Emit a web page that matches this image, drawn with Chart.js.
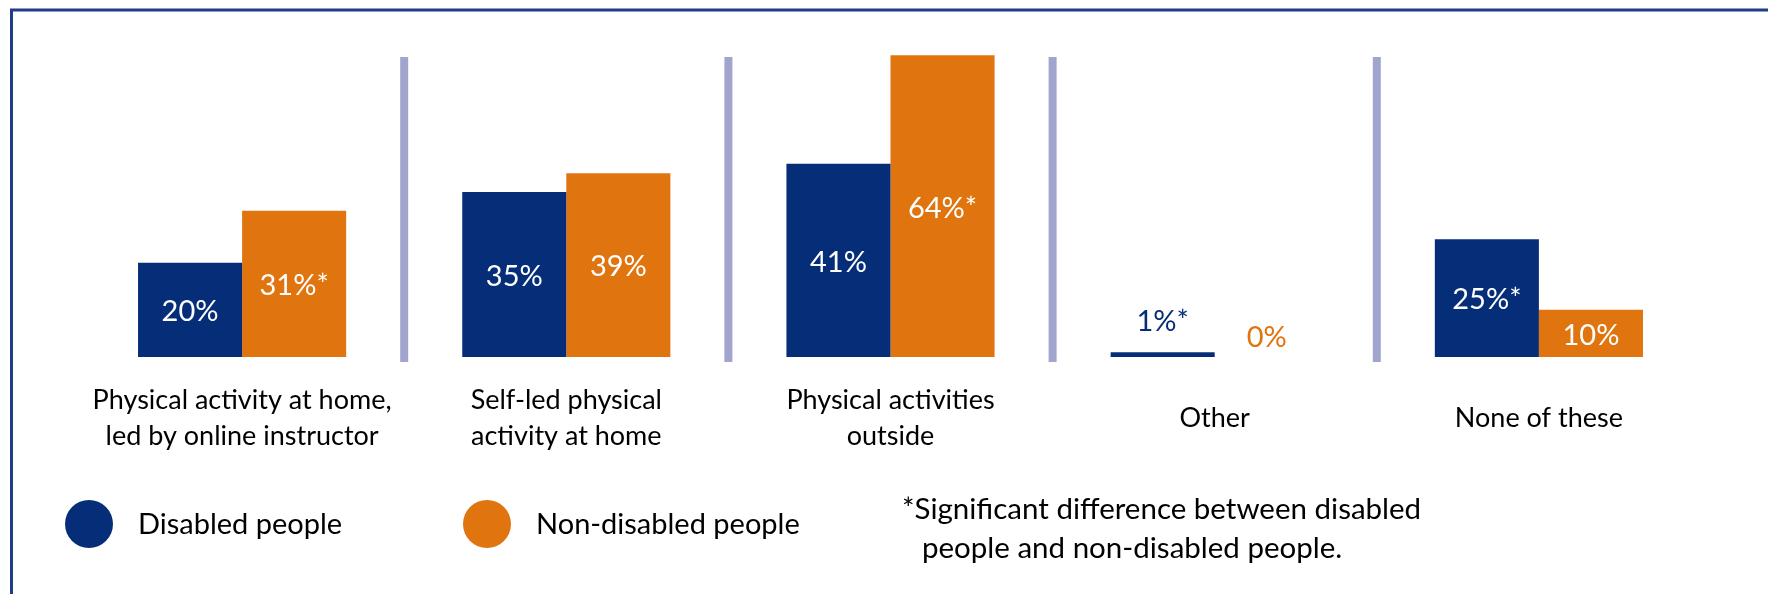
<!DOCTYPE html>
<html>
<head>
<meta charset="utf-8">
<title>Physical activity by disability</title>
<script src="https://cdn.jsdelivr.net/npm/chart.js@4/dist/chart.umd.min.js"></script>
<style>
    html, body { margin: 0; padding: 0; background: #fff; }
    #wrap { position: relative; width: 1768px; height: 594px; }
</style>
</head>
<body>
<div id="wrap"><canvas id="activityChart" width="1768" height="594"></canvas></div>
<script>
// Chart data
const categories = [
    ['Physical activity at home,', 'led by online instructor'],
    ['Self-led physical', 'activity at home'],
    ['Physical activities', 'outside'],
    ['Other'],
    ['None of these']
];
const disabledValues = [20, 35, 41, 1, 25];
const nonDisabledValues = [31, 39, 64, 0, 10];
const disabledLabels = ['20%', '35%', '41%', '1%*', '25%*'];
const nonDisabledLabels = ['31%*', '39%', '64%*', '0%', '10%'];
const seriesNames = ['Disabled people', 'Non-disabled people'];
const footnoteLines = ['*Significant difference between disabled', 'people and non-disabled people.'];

const BLUE = '#062E78';
const ORANGE = '#E0740F';
const DIVIDER = '#A1A5CD';
const FONT = 'Lato, "Open Sans", sans-serif';

// Frame, dividers, category names, value labels, legend and footnote
const decorations = {
    id: 'decorations',
    beforeDraw(chart) {
        const ctx = chart.ctx;
        ctx.save();
        ctx.fillStyle = '#fff';
        ctx.fillRect(0, 0, chart.width, chart.height);
        ctx.strokeStyle = '#1F3D8A';
        ctx.lineWidth = 3;
        ctx.strokeRect(11.5, 10, 1800, 700);
        ctx.restore();
    },
    afterDatasetsDraw(chart) {
        const ctx = chart.ctx;
        const x = chart.scales.x;
        const y = chart.scales.y;
        ctx.save();

        // vertical separators between the groups
        ctx.fillStyle = DIVIDER;
        for (let i = 0; i < categories.length - 1; i++) {
            const mid = (x.getPixelForValue(i) + x.getPixelForValue(i + 1)) / 2;
            ctx.fillRect(mid - 4, 57, 8, 305);
        }

        // value labels
        ctx.textAlign = 'center';
        ctx.textBaseline = 'middle';
        ctx.font = '29px ' + FONT;
        const labelSets = [disabledLabels, nonDisabledLabels];
        chart.data.datasets.forEach((ds, di) => {
            const meta = chart.getDatasetMeta(di);
            meta.data.forEach((bar, i) => {
                const v = ds.data[i];
                const top = y.getPixelForValue(v);
                const base = y.getPixelForValue(0);
                if (v >= 5) {
                    ctx.fillStyle = '#fff';
                    ctx.fillText(labelSets[di][i], bar.x, (top + base) / 2 + 2);
                } else {
                    ctx.fillStyle = ds.backgroundColor;
                    ctx.fillText(labelSets[di][i], bar.x, top - (v > 0 ? 31 : 19));
                }
            });
        });

        // category names under the bars
        ctx.fillStyle = '#000';
        ctx.font = '27px ' + FONT;
        categories.forEach((lines, i) => {
            const cx = x.getPixelForValue(i);
            const startY = lines.length === 1 ? 418 : 400;
            lines.forEach((line, li) => ctx.fillText(line, cx, startY + li * 36));
        });

        // legend
        ctx.textAlign = 'left';
        ctx.font = '29px ' + FONT;
        const legendX = [89, 487];
        chart.data.datasets.forEach((ds, di) => {
            ctx.fillStyle = ds.backgroundColor;
            ctx.beginPath();
            ctx.arc(legendX[di], 524, 24, 0, Math.PI * 2);
            ctx.fill();
            ctx.fillStyle = '#000';
            ctx.fillText(seriesNames[di], legendX[di] + 49, 525);
        });

        // footnote
        ctx.font = '29.5px ' + FONT;
        ctx.fillText(footnoteLines[0], 902, 509);
        ctx.fillText(footnoteLines[1], 922, 548);
        ctx.restore();
    }
};

const ctx = document.getElementById('activityChart').getContext('2d');
new Chart(ctx, {
    type: 'bar',
    data: {
        labels: categories,
        datasets: [{
            label: seriesNames[0],
            data: disabledValues,
            backgroundColor: BLUE
        }, {
            label: seriesNames[1],
            data: nonDisabledValues,
            backgroundColor: ORANGE
        }]
    },
    options: {
        responsive: false,
        animation: false,
        layout: {
            padding: { left: 80, right: 67, top: 27, bottom: 237 }
        },
        datasets: {
            bar: {
                categoryPercentage: 0.642,
                barPercentage: 1,
                borderWidth: 0
            }
        },
        scales: {
            x: { display: false },
            y: { display: false, min: 0, max: 70 }
        },
        plugins: {
            legend: { display: false },
            tooltip: { enabled: false }
        }
    },
    plugins: [decorations]
});
</script>
</body>
</html>
